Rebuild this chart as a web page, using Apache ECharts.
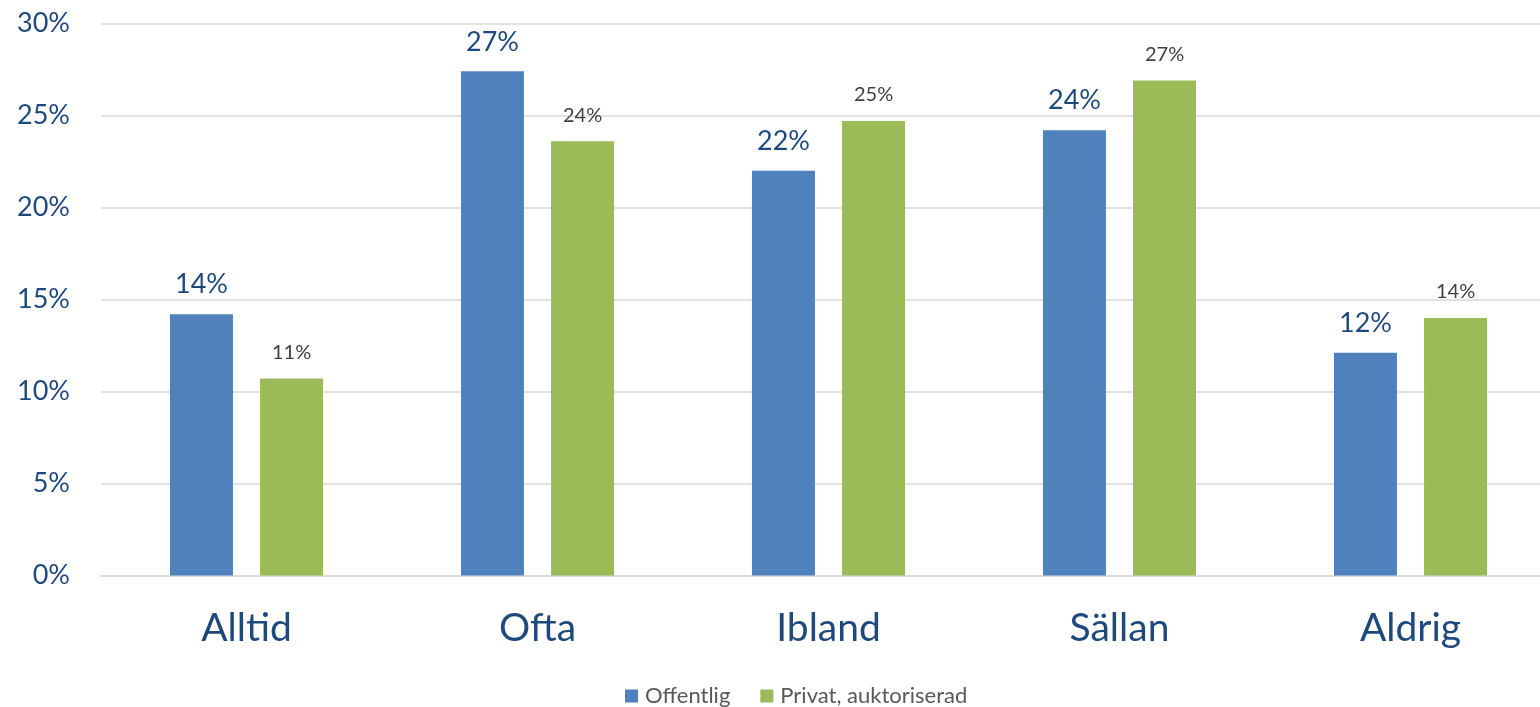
<!DOCTYPE html>
<html>
<head>
<meta charset="utf-8">
<script src="https://cdn.jsdelivr.net/npm/echarts@6/dist/echarts.min.js"></script>
<style>
  html, body { margin: 0; padding: 0; background: #fff; }
  #chart { width: 1540px; height: 707px; }
</style>
</head>
<body>
<div id="chart"></div>
<script>
const categories = ['Alltid', 'Ofta', 'Ibland', 'Sällan', 'Aldrig'];
const seriesNames = ['Offentlig', 'Privat, auktoriserad'];
const offentlig = [14.2, 27.4, 22.0, 24.2, 12.1];
const privat = [10.7, 23.6, 24.7, 26.9, 14.0];
const yTicks = [0, 5, 10, 15, 20, 25, 30];

const FONT = 'Lato, "Open Sans", sans-serif';
const pct = v => Math.round(v) + '%';

const chart = echarts.init(document.getElementById('chart'));
chart.setOption({
  animation: false,
  textStyle: { fontFamily: FONT },
  // plot area runs slightly past the right edge of the canvas
  grid: {
    left: 101, right: -16, top: 23.5, bottom: 131.5,
    containLabel: false, outerBoundsMode: 'none'
  },
  legend: {
    top: 680,
    left: 620,
    itemWidth: 13,
    itemHeight: 13,
    itemGap: 30,
    icon: 'rect',
    textStyle: { fontFamily: FONT, fontSize: 22, color: '#595959', padding: [0, 0, 0, 2] },
    data: seriesNames
  },
  xAxis: {
    type: 'category',
    data: categories,
    axisLine: { show: true, lineStyle: { color: '#d9d9d9', width: 1.5 } },
    axisTick: { show: false },
    axisLabel: { fontFamily: FONT, fontSize: 39, color: '#1F497D', margin: 33 }
  },
  yAxis: {
    type: 'value',
    min: yTicks[0],
    max: yTicks[yTicks.length - 1],
    interval: 5,
    axisLine: { show: false },
    axisTick: { show: false },
    splitLine: { lineStyle: { color: '#d9d9d9', width: 1.5 } },
    axisLabel: { fontFamily: FONT, fontSize: 27, color: '#1F497D', margin: 31, formatter: v => v + '%' }
  },
  series: [
    {
      name: seriesNames[0],
      type: 'bar',
      data: offentlig,
      barWidth: 63,
      barGap: '43%',
      itemStyle: { color: '#4F81BD' },
      label: {
        show: true, position: 'top', distance: 16,
        fontFamily: FONT, fontSize: 27, color: '#1F497D',
        formatter: p => pct(p.value)
      }
    },
    {
      name: seriesNames[1],
      type: 'bar',
      data: privat,
      barWidth: 63,
      itemStyle: { color: '#9BBB59' },
      label: {
        show: true, position: 'top', distance: 16,
        fontFamily: FONT, fontSize: 20, color: '#404040',
        formatter: p => pct(p.value)
      }
    }
  ]
});
</script>
</body>
</html>
